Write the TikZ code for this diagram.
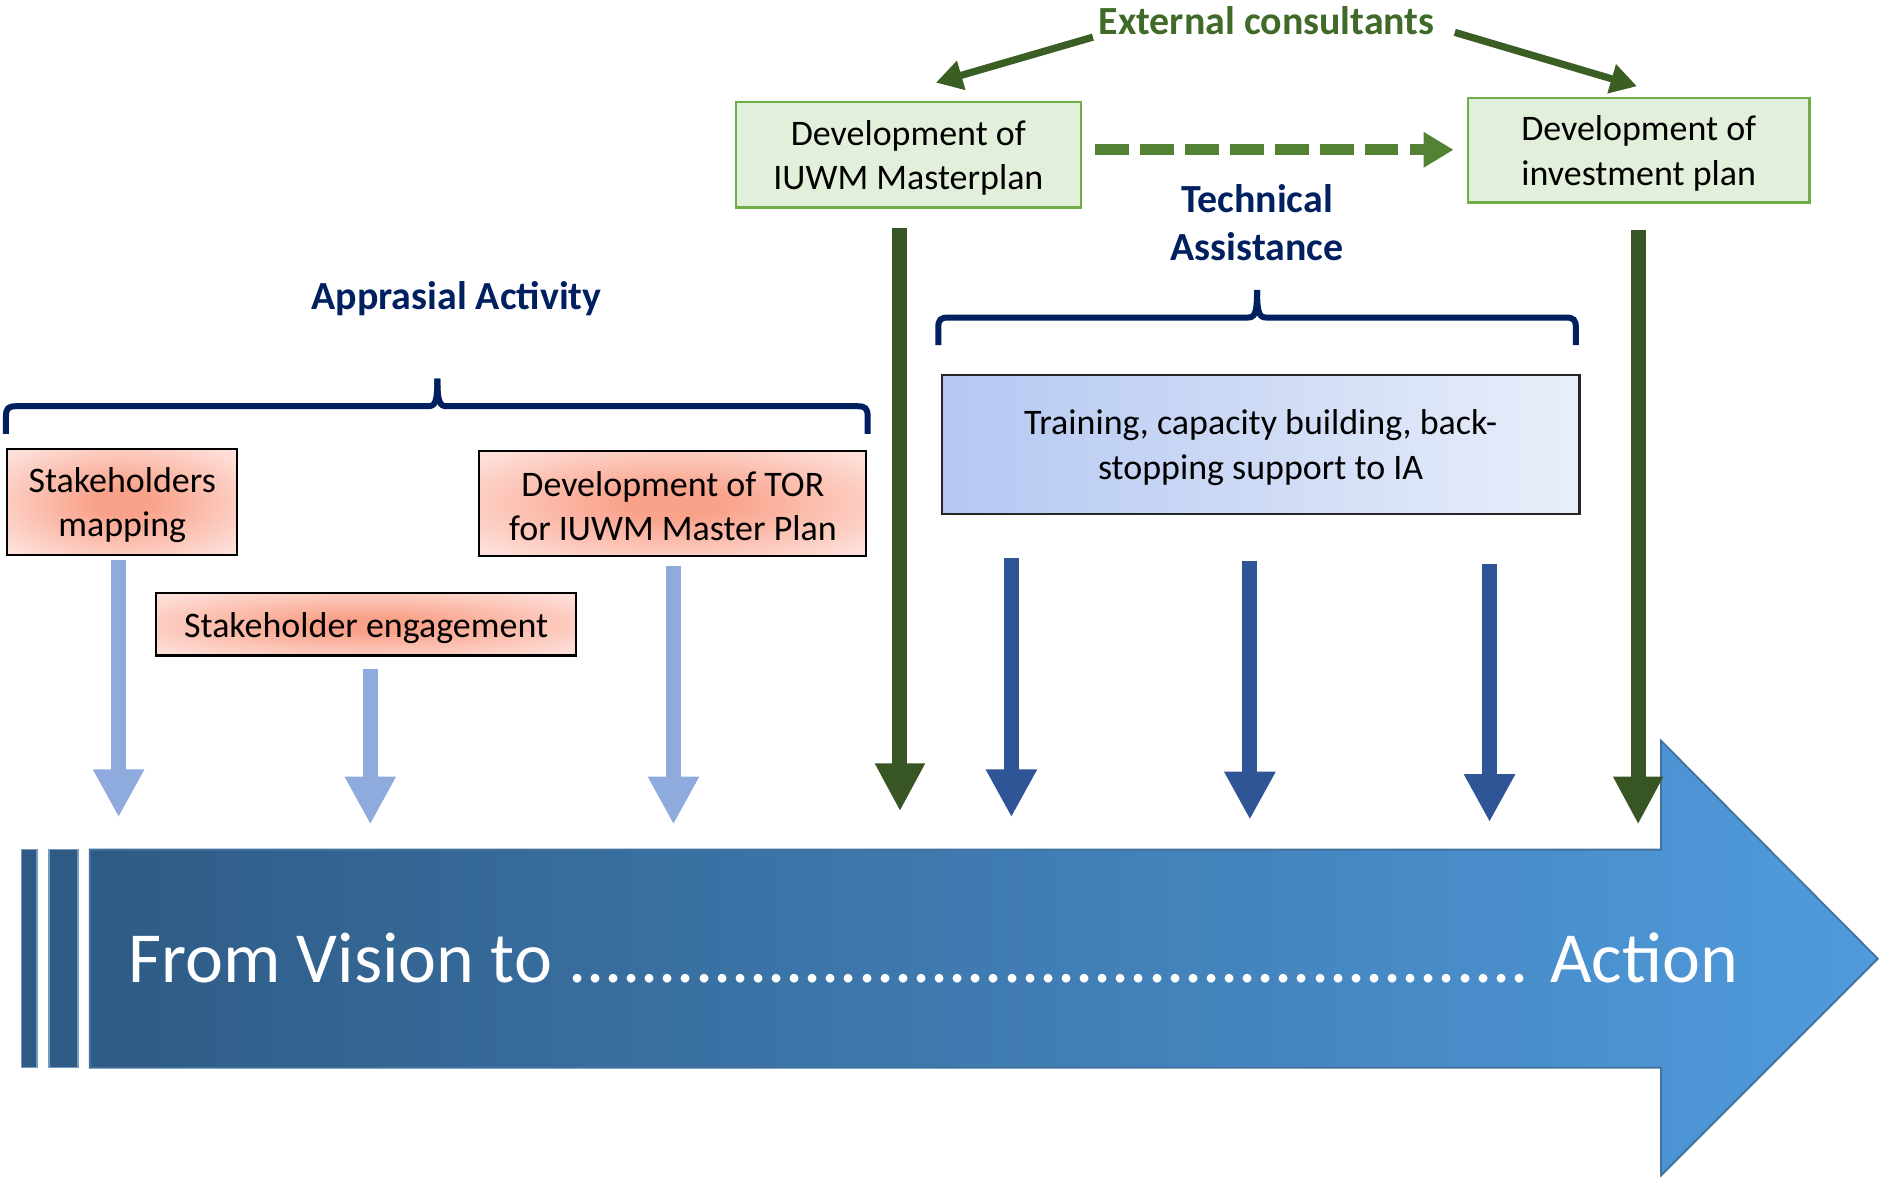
\documentclass[tikz,border=0pt]{standalone}
\usepackage{fontspec}
\setmainfont{Carlito}
\usetikzlibrary{arrows.meta}
\definecolor{navy}{HTML}{002060}
\definecolor{gborder}{HTML}{70AD47}
\definecolor{gfill}{HTML}{E2EFDA}
\definecolor{ectext}{HTML}{3F6A27}
\definecolor{ecarrowc}{HTML}{3B5E24}
\definecolor{dgreen}{HTML}{375623}
\definecolor{dashgreen}{HTML}{548235}
\definecolor{lblue}{HTML}{8FAADC}
\definecolor{dblue}{HTML}{2F5597}
\definecolor{salmonin}{HTML}{F9A189}
\definecolor{salmonout}{HTML}{FEE0DA}
\definecolor{tleft}{HTML}{B4C8F2}
\definecolor{tright}{HTML}{E9EEFA}
\definecolor{bigleft}{HTML}{2E5B85}
\definecolor{bigright}{HTML}{509BDD}
\definecolor{bigedge}{HTML}{41719C}
\pgfdeclareradialshading{salmonrad}{\pgfpoint{0bp}{0bp}}{%
  color(0bp)=(salmonin); color(6bp)=(salmonin); color(33bp)=(salmonout); color(50bp)=(salmonout)}
\newcommand\bxfont{\fontsize{30}{37}\selectfont}
\newcommand\lblfont{\fontsize{33.3}{40}\selectfont\bfseries}
\newcommand\topstrut{\rule{0pt}{26pt}}
\begin{document}
\begin{tikzpicture}[x=1pt,y=-1pt,
  gbox/.style={draw=gborder, line width=2pt, fill=gfill, align=center, inner sep=0pt, font=\bxfont},
  sbox/.style={draw=black, line width=1.8pt, shading=salmonrad, align=center, inner sep=0pt, font=\bxfont},
  tbox/.style={draw=black!85, line width=1.8pt, left color=tleft, right color=tright, align=center, inner sep=0pt, font=\bxfont},
  lbl/.style={font=\lblfont, align=center, inner sep=0pt},
  brace/.style={draw=navy, line width=5pt},
  lbarrow/.style={draw=lblue, line width=13pt, -{Triangle[width=40pt,length=40pt]}},
  dgarrow/.style={draw=dgreen, line width=12.5pt, -{Triangle[width=39pt,length=40pt]}},
  dbarrow/.style={draw=dblue, line width=12.5pt, -{Triangle[width=40pt,length=40pt]}},
  ecarrow/.style={draw=ecarrowc, line width=6pt, -{Triangle[width=24pt,length=22pt]}},
  dasharrow/.style={draw=dashgreen, line width=9pt, dash pattern=on 28pt off 9.5pt, -{Triangle[width=28pt,length=25pt]}}
]
\useasboundingbox (0,0) rectangle (1568,982);

% big arrow
\path[left color=bigleft, right color=bigright, draw=bigedge, line width=1.5pt]
  (75,709) -- (1386,709) -- (1386,618) -- (1567,800) -- (1386,981) -- (1386,891) -- (75,891) -- cycle;
\path[fill=bigleft, draw=bigedge!70, line width=1.2pt] (18,709) rectangle (31,891);
\path[fill=bigleft, draw=bigedge!70, line width=1.2pt] (41,709) rectangle (65,891);
\node[anchor=base west, text=white, inner sep=0pt, font=\fontsize{60}{70}\selectfont] (vision) at (107,820)
  {From Vision to ..................................................... Action};

% top label and green boxes
\node[lbl, text=ectext] (ec) at (1057,17) {External consultants};
\node[gbox, minimum width=288pt, minimum height=88pt] (mp) at (758,129) {\topstrut Development of\\IUWM Masterplan};
\node[gbox, minimum width=285pt, minimum height=87pt] (ip) at (1367.5,125.5) {\topstrut Development of\\investment plan};

\coordinate (ecl) at (912,31);
\coordinate (ecr) at (1214,27);
\coordinate (mptop) at (781,69);
\coordinate (iptop) at (1366,72);
\draw[ecarrow] (ecl) -- (mptop);
\draw[ecarrow] (ecr) -- (iptop);
\draw[dasharrow] (mp.east |- 0,125) ++(11,0) coordinate (dsh) -- ([xshift=-11pt]ip.west |- 0,125) coordinate (dse);

% technical assistance
\node[lbl, text=navy] (ta) at (1049,186) {Technical\\Assistance};
\draw[brace] (783,288) -- (783,273) .. controls (783,267) and (785,265) .. (791,265) -- (1041,265)
  .. controls (1047,265) and (1049,262) .. (1049,242);
\draw[brace] (1049,242) .. controls (1049,262) and (1051,265) .. (1057,265) -- (1307,265)
  .. controls (1313,265) and (1315,267) .. (1315,273) -- (1315,288);
\node[tbox, minimum width=532pt, minimum height=116pt] (tr) at (1052,371) {\topstrut Training, capacity building, back-\\stopping support to IA};

% appraisal activity
\node[lbl, text=navy] (aa) at (381,249) {Apprasial Activity};
\draw[brace] (5,362) -- (5,347) .. controls (5,341) and (7,339) .. (13,339) -- (357,339)
  .. controls (363,339) and (365,336) .. (365,316);
\draw[brace] (365,316) .. controls (365,336) and (367,339) .. (373,339) -- (716,339)
  .. controls (722,339) and (724,341) .. (724,347) -- (724,362);

\node[sbox, minimum width=192pt, minimum height=88pt] (sm) at (102,419) {\topstrut Stakeholders\\mapping};
\node[sbox, minimum width=323pt, minimum height=88pt] (tor) at (561.5,420) {\topstrut Development of TOR\\for IUWM Master Plan};
\node[sbox, minimum width=351pt, minimum height=52pt, text height=27pt] (se) at (305.5,521) {Stakeholder engagement};

% vertical arrows
\coordinate (lb1s) at (99,467);   \coordinate (lb1e) at (99,682);
\coordinate (lb2s) at (309,558);  \coordinate (lb2e) at (309,688);
\coordinate (lb3s) at (562,472);  \coordinate (lb3e) at (562,688);
\coordinate (dg1s) at (751,190);  \coordinate (dg1e) at (751,677);
\coordinate (dg2s) at (1367,192); \coordinate (dg2e) at (1367,688);
\coordinate (db1s) at (844,466);  \coordinate (db1e) at (844,682);
\coordinate (db2s) at (1043,468); \coordinate (db2e) at (1043,684);
\coordinate (db3s) at (1243,471); \coordinate (db3e) at (1243,686);
\draw[lbarrow] (lb1s) -- (lb1e);
\draw[lbarrow] (lb2s) -- (lb2e);
\draw[lbarrow] (lb3s) -- (lb3e);
\draw[dgarrow] (dg1s) -- (dg1e);
\draw[dgarrow] (dg2s) -- (dg2e);
\draw[dbarrow] (db1s) -- (db1e);
\draw[dbarrow] (db2s) -- (db2e);
\draw[dbarrow] (db3s) -- (db3e);
\end{tikzpicture}
\end{document}
